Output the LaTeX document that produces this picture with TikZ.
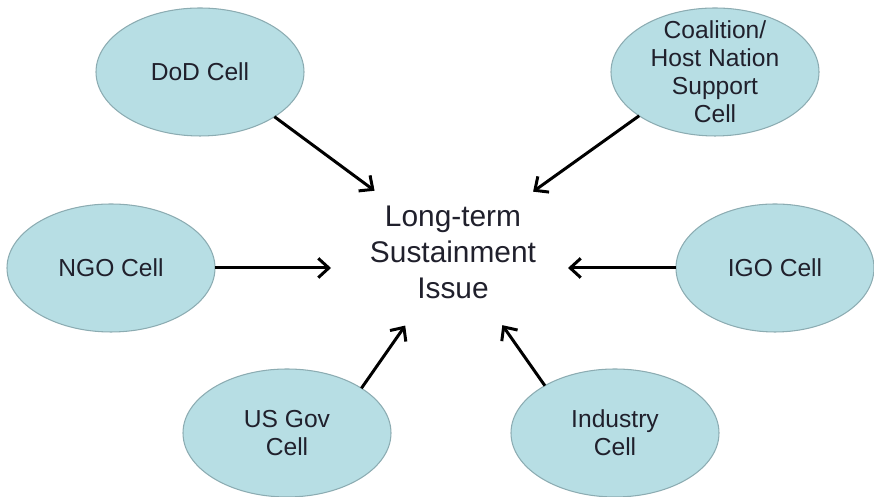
\documentclass[tikz,border=0pt]{standalone}
\usepackage{fontspec}
\setmainfont{Liberation Sans}
\usepackage{tikz}
\usetikzlibrary{shapes.geometric, arrows.meta}
\definecolor{cellfill}{RGB}{183,222,228}
\definecolor{cellline}{RGB}{140,172,178}
\definecolor{celltext}{RGB}{32,32,44}
\tikzstyle{cell} = [ellipse, minimum width=4.16cm, minimum height=2.56cm, inner sep=0pt, outer sep=0pt, align=center, draw=cellline, line width=0.6pt, fill=cellfill, text=celltext, font=\fontsize{14pt}{16pt}\selectfont]
\tikzstyle{issuebox} = [ellipse, minimum width=4.88cm, minimum height=3.2cm, inner sep=0pt, outer sep=0pt, align=center, text=celltext, font=\fontsize{17pt}{20.5pt}\selectfont]
\tikzstyle{arrow} = [line width=1.7pt, ->, >={Straight Barb[length=6pt,width=11pt]}]

\begin{document}
\begin{tikzpicture}[node distance=3.6cm]
\useasboundingbox (0,0) rectangle (17.48,9.94);
\node (issue) [issuebox] at (9.06,4.9) {Long-term\\Sustainment\\Issue};
\node (dod) [cell, above of=issue, xshift=-5.06cm] {DoD Cell};
\node (coalition) [cell, above of=issue, xshift=5.24cm, inner ysep=-0.16cm] {Coalition/\\Host Nation\\Support\\Cell};
\node (ngo) [cell, left of=issue, xshift=-3.24cm, yshift=-0.32cm] {NGO Cell};
\node (igo) [cell, right of=issue, xshift=2.84cm, yshift=-0.32cm, minimum width=3.96cm] {IGO Cell};
\node (usgov) [cell, below of=issue, xshift=-3.32cm, yshift=-0.02cm] {US Gov\\Cell};
\node (industry) [cell, below of=issue, xshift=3.24cm, yshift=-0.02cm] {Industry\\Cell};

\draw [arrow] (dod.329) -- (issue.142);
\draw [arrow] (coalition.210) -- (issue.37);
\draw [arrow] (ngo.east) -- (ngo.east -| issue.west);
\draw [arrow] (igo.west) -- ([xshift=-0.14cm]igo.west -| issue.east);
\draw [arrow] (usgov.31) -- (issue.237);
\draw [arrow] (industry.146) -- (issue.304);
\end{tikzpicture}
\end{document}
